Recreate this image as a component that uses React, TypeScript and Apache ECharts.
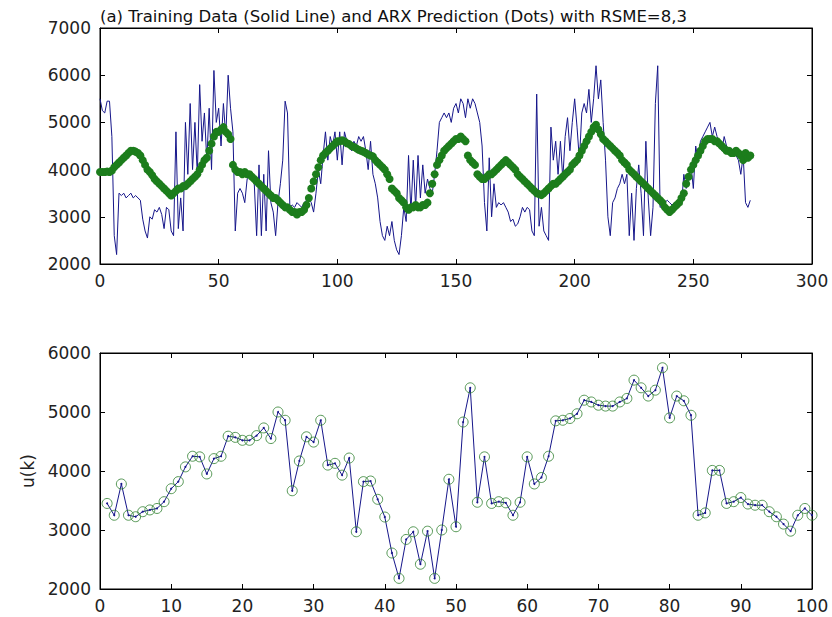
import React, { useEffect, useRef } from "react";
import * as echarts from "echarts";

const titleText = "(a) Training Data (Solid Line) and ARX Prediction (Dots) with RSME=8,3";
const yLabelBottom = "u(k)";

// top panel: training data (solid line), index 0..274
const trainingData = [
  5500, 5250, 5200, 5450, 5450, 4700, 2600, 2200, 3500, 3450,
  3500, 3400, 3450, 3500, 3400, 3450, 3400, 3350, 2950, 2700,
  2550, 3000, 2950, 3150, 3100, 3200, 3050, 2750, 3200, 3150,
  2700, 2600, 4800, 2750, 3400, 2700, 5000, 3900, 5400, 4000,
  5000, 3900, 5800, 4600, 5200, 4200, 5300, 4000, 6100, 5000,
  5300, 4500, 5400, 4700, 6000, 5300, 4800, 2700, 3500, 3600,
  3500, 3300, 3800, 3850, 3900, 3700, 2600, 4100, 2600, 3900,
  2700, 4400, 3300, 3100, 2600, 3300, 3700, 4200, 5450, 5200,
  3200, 3250, 3200, 3300, 3250, 3200, 3300, 3350, 3400, 3300,
  3100, 3500, 4000, 3700, 4300, 4800, 4200, 4700, 4500, 4800,
  4200, 4800, 4100, 4800, 4600, 4500, 4400, 4600, 4500, 4700,
  4600, 4700, 4400, 4000, 4600, 3900, 3700, 3400, 2900, 2600,
  2500, 2800, 2600, 2900, 2500, 2300, 2200, 2600, 3200, 2900,
  4300, 3100, 4200, 3200, 4300, 3400, 4100, 3500, 3800, 3600,
  3500, 3900, 4400, 5000, 5100, 5200, 5100, 5200, 5000, 5300,
  5400, 5200, 5500, 5400, 5100, 5500, 5300, 5500, 5400, 5200,
  5000, 4500, 3300, 2700, 4250, 3000, 3700, 3200, 3300, 3250,
  3300, 3200, 3100, 2900, 2950, 2800, 2850, 3000, 3200, 3100,
  3200, 3150, 2700, 2600, 5600, 2800, 3200, 2700, 2600, 2500,
  4900, 4200, 4600, 3900, 4600, 3800, 4700, 5100, 4400, 5000,
  5500, 4900, 4200, 5200, 5400, 5200, 5700, 5000, 5500, 6200,
  5500, 5900, 5000, 4200, 3000, 2600, 3300, 3400, 3600, 3700,
  3900, 3700, 3900, 2600, 3500, 2500, 3600, 4100, 3500, 2600,
  4600, 3400, 2600, 3200, 5400, 6200, 3200, 3250, 3300, 3350,
  3300, 3250, 3300, 3200, 3300, 3250, 3900, 3600, 3800, 4100,
  3600, 4500, 4200, 4600, 4700, 4800, 4900, 5000, 4700, 4900,
  4700, 4600, 4400, 4700, 4500, 4400, 4450, 4400, 4300, 4200,
  3900, 4300, 3300, 3200, 3350,
];

// top panel: ARX prediction (dots), index 0..274
const arxPrediction = [
  3950, 3950, 3950, 3960, 3950, 3980, 4050, 4100, 4150, 4200,
  4250, 4300, 4350, 4400, 4400, 4380, 4350, 4300, 4200, 4100,
  4000, 3950, 3880, 3800, 3750, 3700, 3650, 3600, 3550, 3500,
  3450, 3500, 3550, 3600, 3600, 3650, 3650, 3700, 3750, 3800,
  3850, 3900, 4000, 4100, 4200, 4250, 4400, 4550, 4700, 4800,
  4800, 4850, 4900, 4800, 4750, 4650, 4100, 4000, 3950, 3950,
  3900, 3950, 3900, 3900, 3850, 3800, 3750, 3700, 3650, 3600,
  3550, 3500, 3450, 3400, 3400, 3350, 3300, 3250, 3200, 3200,
  3150, 3100, 3100, 3050, 3100, 3100, 3150, 3250, 3400, 3600,
  3750, 3900, 4050, 4200, 4300, 4350, 4400, 4450, 4500, 4550,
  4600, 4600, 4620, 4600, 4560, 4540, 4500, 4480, 4450, 4420,
  4400, 4380, 4350, 4320, 4300, 4280, 4200, 4150, 4100, 4050,
  4000, 3900, 3800, 3600, 3550, 3500, 3400, 3350, 3300, 3200,
  3150, 3200, 3200, 3250, 3200, 3200, 3250, 3250, 3300, 3500,
  3700, 3900, 4100, 4200, 4300, 4400, 4450, 4500, 4550, 4600,
  4650, 4650, 4700, 4650, 4600, 4300, 4200, 4150, 4100, 3900,
  3850, 3800, 3800, 3850, 3900, 3900, 3950, 4000, 4050, 4100,
  4150, 4200, 4150, 4100, 4050, 4000, 3900, 3850, 3800, 3750,
  3700, 3650, 3600, 3550, 3500, 3480, 3460, 3500, 3550, 3600,
  3650, 3700, 3700, 3750, 3800, 3850, 3900, 3950, 4000, 4100,
  4150, 4200, 4300, 4400, 4500, 4600, 4700, 4800, 4900, 4950,
  4850, 4750, 4650, 4600, 4550, 4500, 4450, 4400, 4350, 4300,
  4200, 4150, 4100, 4000, 3950, 3900, 3850, 3800, 3750, 3700,
  3650, 3600, 3550, 3500, 3450, 3400, 3350, 3300, 3200, 3150,
  3100, 3150, 3200, 3250, 3300, 3400, 3500, 3700, 3850, 4000,
  4100, 4200, 4300, 4400, 4500, 4600, 4650, 4650, 4650, 4600,
  4600, 4550, 4500, 4450, 4400, 4400, 4350, 4350, 4400, 4350,
  4300, 4200, 4350, 4250, 4300,
];

// bottom panel: u(k), k = 1..100
const uK = [
  3450, 3250, 3780, 3250, 3225, 3310, 3340, 3365, 3480, 3700,
  3820, 4070, 4250, 4240, 3950, 4210, 4250, 4590, 4570, 4520,
  4520, 4600, 4730, 4550, 5000, 4860, 3665, 4170, 4580, 4490,
  4860, 4100, 4130, 3930, 4220, 2970, 3820, 3830, 3520, 3220,
  2610, 2180, 2840, 2970, 2420, 2980, 2180, 3000, 3860, 3055,
  4830, 5410, 3470, 4240, 3450, 3480, 3460, 3250, 3470, 4240,
  3780, 3890, 4250, 4850, 4860, 4890, 4970, 5200, 5170, 5115,
  5100, 5100, 5170, 5230, 5540, 5410, 5270, 5370, 5750, 4900,
  5270, 5190, 4945, 3250, 3290, 4010, 4010, 3450, 3480, 3550,
  3440, 3420, 3420, 3310, 3225, 3100, 2980, 3250, 3365, 3250,
];

const topXTicks = { min: 0, max: 300, interval: 50 };
const topYTicks = { min: 2000, max: 7000, interval: 1000 };
const botXTicks = { min: 0, max: 100, interval: 10 };
const botYTicks = { min: 2000, max: 6000, interval: 1000 };

const BLUE = "#16168a";
const GREEN = "#1c7d1c";
const CIRCLE_GREEN = "#2e7f2e";
const FONT = "DejaVu Sans";

export default function App() {
  const ref = useRef<HTMLDivElement>(null);

  useEffect(() => {
    document.body.style.margin = "0";
    if (!ref.current) return;
    const chart = echarts.init(ref.current, undefined, { renderer: "svg" });

    const labelStyle = { color: "#222", fontSize: 17, fontFamily: FONT };
    const fmt = (v: number) => String(v);

    const mkX = (gridIndex: number, t: any, position: string, showLabel: boolean) => ({
      type: "value",
      gridIndex,
      position,
      min: t.min,
      max: t.max,
      interval: t.interval,
      axisLine: { show: true, onZero: false, lineStyle: { color: "#000", width: 1 } },
      axisTick: { show: true, inside: true, length: 5, lineStyle: { color: "#000", width: 1 } },
      splitLine: { show: false },
      axisLabel: { show: showLabel, margin: 8, formatter: fmt, ...labelStyle },
    });
    const mkY = (gridIndex: number, t: any, position: string, showLabel: boolean, name?: string) => ({
      type: "value",
      gridIndex,
      position,
      min: t.min,
      max: t.max,
      interval: t.interval,
      axisLine: { show: true, onZero: false, lineStyle: { color: "#000", width: 1 } },
      axisTick: { show: true, inside: true, length: 5, lineStyle: { color: "#000", width: 1 } },
      splitLine: { show: false },
      axisLabel: { show: showLabel, margin: 9, formatter: fmt, ...labelStyle },
      name: name,
      nameLocation: "middle",
      nameGap: 62,
      nameRotate: 90,
      nameTextStyle: { color: "#222", fontSize: 17, fontFamily: FONT },
    });

    chart.setOption({
      animation: false,
      backgroundColor: "#fff",
      title: {
        text: titleText,
        left: 95,
        top: 3,
        textStyle: { fontSize: 16.5, fontWeight: "normal", color: "#111", fontFamily: FONT },
      },
      grid: [
        { left: 100, top: 28, width: 712, height: 236, show: true, borderColor: "#000", borderWidth: 1, backgroundColor: "transparent" },
        { left: 100, top: 353, width: 712, height: 236, show: true, borderColor: "#000", borderWidth: 1, backgroundColor: "transparent" },
      ],
      xAxis: [
        mkX(0, topXTicks, "bottom", true),
        mkX(0, topXTicks, "top", false),
        mkX(1, botXTicks, "bottom", true),
        mkX(1, botXTicks, "top", false),
      ],
      yAxis: [
        mkY(0, topYTicks, "left", true),
        mkY(0, topYTicks, "right", false),
        mkY(1, botYTicks, "left", true, yLabelBottom),
        mkY(1, botYTicks, "right", false),
      ],
      series: [
        {
          type: "line",
          xAxisIndex: 0,
          yAxisIndex: 0,
          data: trainingData.map((v, i) => [i, v]),
          showSymbol: false,
          lineStyle: { color: BLUE, width: 1 },
          itemStyle: { color: BLUE },
          z: 2,
        },
        {
          type: "scatter",
          xAxisIndex: 0,
          yAxisIndex: 0,
          data: arxPrediction.map((v, i) => [i, v]),
          symbol: "circle",
          symbolSize: 8,
          itemStyle: { color: GREEN, opacity: 1 },
          z: 3,
        },
        {
          type: "line",
          xAxisIndex: 1,
          yAxisIndex: 1,
          data: [],
          showSymbol: false,
        },
        {
          type: "line",
          xAxisIndex: 2,
          yAxisIndex: 2,
          data: uK.map((v, i) => [i + 1, v]),
          symbol: "circle",
          symbolSize: 2,
          showSymbol: true,
          lineStyle: { color: BLUE, width: 1 },
          itemStyle: { color: BLUE },
          z: 2,
        },
        {
          type: "scatter",
          xAxisIndex: 2,
          yAxisIndex: 2,
          data: uK.map((v, i) => [i + 1, v]),
          symbol: "circle",
          symbolSize: 10,
          itemStyle: { color: "rgba(0,0,0,0)", borderColor: CIRCLE_GREEN, borderWidth: 1 },
          z: 3,
        },
        {
          type: "line",
          xAxisIndex: 3,
          yAxisIndex: 3,
          data: [],
          showSymbol: false,
        },
      ],
    });

    return () => chart.dispose();
  }, []);

  return <div ref={ref} style={{ width: 832, height: 617 }} />;
}
